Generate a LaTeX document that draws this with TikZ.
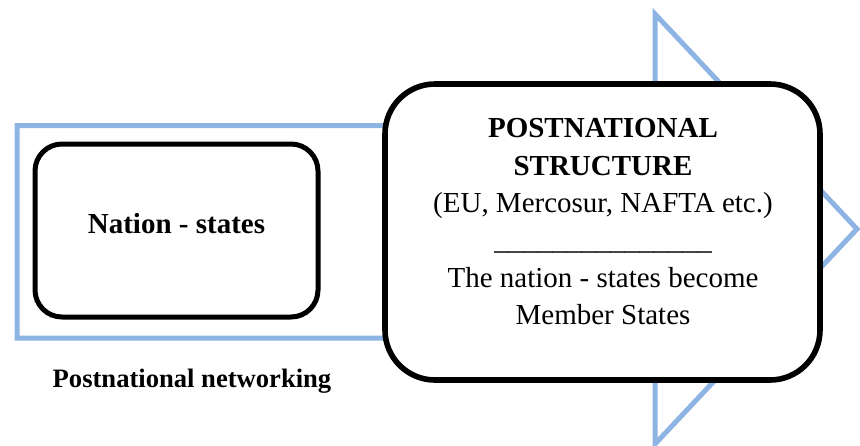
\documentclass[tikz,border=0pt]{standalone}
\usepackage{fontspec}
\setmainfont{Liberation Serif}
\usetikzlibrary{positioning}
\definecolor{arrowblue}{HTML}{8EB4E3}
\tikzset{every picture/.style={/utils/exec={\rmfamily}}}

\begin{document}
\begin{tikzpicture}[x=0.5pt,y=-0.5pt]
  \tikzstyle{box} = [rectangle, draw=black, fill=white, text centered]
  \tikzstyle{flow} = [draw=arrowblue, line width=2.5pt, line join=miter]

  \useasboundingbox (0,0) rectangle (860,445);

  % big arrow behind the boxes
  \draw [flow] (17,125.5) -- (655,125.5) -- (655,14) -- (857,229) -- (655,444) -- (655,338) -- (17,338) -- cycle;

  \node (nation) [box, line width=2.5pt, rounded corners=13.5pt, minimum width=141.5pt, minimum height=86.5pt, text depth=7.5pt, font=\bfseries\fontsize{14.5}{17}\selectfont] at (176.5,230.5) {Nation - states};
  \node (post) [box, line width=2.8pt, rounded corners=25pt, minimum width=217.5pt, minimum height=148pt] at (602.5,232) {};
  \node (posttext) [anchor=north, inner sep=0pt, align=center, font=\fontsize{14.5}{18.7}\selectfont] at (603,118)
    {\textbf{POSTNATIONAL}\\ \textbf{STRUCTURE}\\ (EU, Mercosur, NAFTA etc.)\\ \_\_\_\_\_\_\_\_\_\_\_\_\_\_\_\\ The nation - states become\\ Member States};
  \node (network) [anchor=base, font=\bfseries\fontsize{13.3}{16}\selectfont] at (192,387) {Postnational networking};
\end{tikzpicture}
\end{document}
